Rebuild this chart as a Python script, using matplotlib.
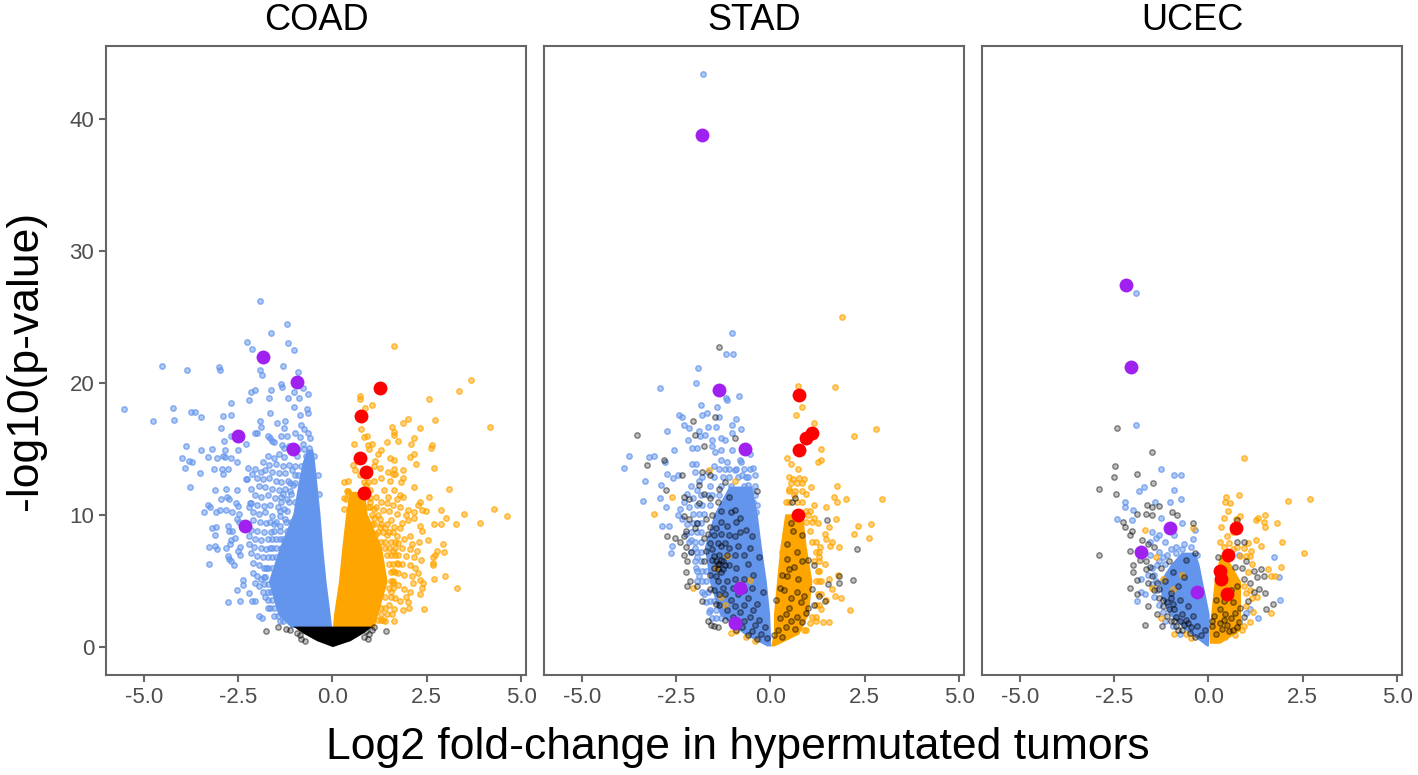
import matplotlib
matplotlib.use('Agg')
import matplotlib.pyplot as plt

plt.rcParams['font.family'] = ['Liberation Sans', 'DejaVu Sans']

panel_names = ['COAD', 'STAD', 'UCEC']
x_ticks = [-5.0, -2.5, 0.0, 2.5, 5.0]
y_ticks = [0, 10, 20, 30, 40]

# highlighted genes
coad_purple = [(-1.83, 22.0), (-0.95, 20.1), (-2.49, 16.0), (-1.05, 15.0), (-2.32, 9.2)]
coad_red = [(1.25, 19.6), (0.76, 17.5), (0.72, 14.3), (0.88, 13.3), (0.83, 11.7)]
stad_purple = [(-1.82, 38.8), (-1.36, 19.5), (-0.68, 15.0), (-0.80, 4.5), (-0.94, 1.8)]
stad_red = [(0.77, 19.1), (1.10, 16.2), (0.94, 15.8), (0.75, 14.9), (0.72, 10.0)]
ucec_purple = [(-2.19, 27.4), (-2.05, 21.2), (-1.02, 9.0), (-1.78, 7.2), (-0.31, 4.2)]
ucec_red = [(0.74, 9.0), (0.53, 7.0), (0.31, 5.8), (0.33, 5.2), (0.50, 4.0)]

coad_blue_y = [15.0, 14, 12.6, 10.1, 7.6, 5.0, 2.5, 1.5]
coad_blue_l = [-0.68, -0.8, -0.9, -1.05, -1.4, -1.7, -1.45, -1.1]
coad_blue_r = [-0.52, -0.47, -0.42, -0.33, -0.26, -0.17, -0.06, -0.02]
coad_orange_y = [11.8, 10.1, 7.6, 5.0, 2.5, 1.5]
coad_orange_l = [0.45, 0.35, 0.25, 0.16, 0.03, 0.0]
coad_orange_r = [0.85, 0.92, 1.3, 1.45, 1.2, 1.1]
coad_black_y = [1.6, 1.1, 0.5, 0.05]
coad_black_l = [-1.05, -0.8, -0.42, 0.0]
coad_black_r = [1.05, 0.82, 0.47, 0.0]
stad_blue_y = [12.2, 10.1, 7.6, 5.0, 2.5, 1.0, 0.1]
stad_blue_l = [-1.1, -1.5, -1.75, -1.62, -1.35, -0.7, -0.1]
stad_blue_r = [-0.5, -0.35, -0.24, -0.11, -0.02, 0.0, 0.0]
stad_orange_y = [10.1, 7.6, 5.0, 2.5, 1.0, 0.1]
stad_orange_l = [0.38, 0.25, 0.16, 0.08, 0.08, 0.0]
stad_orange_r = [0.85, 0.95, 1.1, 1.0, 0.75, 0.1]
ucec_blue_y = [7.2, 6.3, 5.0, 3.8, 2.5, 1.3, 0.1]
ucec_blue_l = [-0.72, -1.0, -1.3, -1.25, -1.05, -0.6, -0.05]
ucec_blue_r = [-0.36, -0.25, -0.16, -0.07, 0.02, 0.02, 0.0]
ucec_orange_y = [7.0, 5.0, 2.5, 1.3, 0.3]
ucec_orange_l = [0.3, 0.15, 0.06, 0.02, 0.02]
ucec_orange_r = [0.45, 0.85, 0.85, 0.85, 0.3]

# single points
coad_blue = [
    (-1.93, 26.2), (-1.21, 24.5), (-1.63, 23.8), (-2.27, 23.1), (-1.17, 23.0), (-2.13, 22.6), (-1.01, 22.5),
    (-4.52, 21.3), (-3.85, 21.0), (-3.0, 21.2), (-2.97, 21.0), (-1.30, 21.3), (-1.93, 21.0), (-1.86, 20.6),
    (-0.92, 20.8), (-1.37, 19.9), (-1.34, 19.7), (-1.63, 19.5), (-2.04, 19.5), (-2.15, 19.3), (-0.77, 19.6),
    (-0.66, 19.2), (-1.02, 19.3), (-1.68, 18.9), (-1.19, 18.9), (-0.88, 18.9), (-2.22, 18.7), (-2.68, 18.5),
    (-5.52, 18.0), (-4.23, 18.1), (-4.21, 17.2), (-4.76, 17.1), (-3.76, 17.8), (-3.65, 17.8), (-3.47, 17.4),
    (-2.89, 17.5), (-2.70, 17.6), (-1.01, 18.2), (-0.68, 18.0), (-0.66, 17.7), (-0.85, 17.6), (-1.66, 17.7),
    (-1.46, 17.0), (-1.92, 17.1), (-1.88, 16.7), (-1.25, 17.1), (-1.29, 16.6), (-2.95, 16.6), (-2.05, 16.2),
    (-1.99, 16.2), (-2.69, 16.0), (-2.86, 15.6), (-2.30, 15.4), (-1.70, 16.0), (-1.65, 15.8), (-1.60, 15.6),
    (-1.56, 15.5), (-0.82, 16.8), (-0.75, 16.5), (-0.65, 16.2), (-1.0, 16.2), (-1.35, 16.0), (-1.20, 16.0),
    (-0.85, 15.9), (-0.6, 15.8), (-1.33, 15.3), (-1.27, 15.1), (-1.15, 15.2), (-0.78, 15.4), (-0.62, 15.1),
    (-3.87, 15.2), (-3.47, 14.9), (-3.20, 15.0), (-2.85, 14.9), (-2.49, 14.9), (-3.99, 14.3), (-3.80, 14.1),
    (-3.72, 14.0), (-3.30, 14.4), (-3.05, 14.3), (-2.89, 14.5), (-2.85, 14.4), (-2.70, 14.3), (-2.53, 14.0),
    (-3.90, 13.6), (-3.52, 13.2), (-3.14, 13.5), (-2.93, 13.5), (-2.77, 13.5), (-2.90, 13.1), (-2.23, 13.6),
    (-2.14, 13.1), (-2.30, 12.7), (-2.26, 12.7), (-3.78, 12.1), (-3.12, 11.9), (-2.82, 12.0), (-2.53, 11.9),
    (-2.16, 12.0), (-2.94, 11.2), (-2.80, 11.4), (-2.73, 11.2), (-2.56, 10.9), (-2.49, 10.7), (-3.30, 10.8),
    (-3.25, 10.6), (-3.39, 10.2), (-3.09, 10.2), (-2.98, 10.4), (-2.82, 10.4), (-2.66, 10.2), (-2.48, 10.1),
    (-2.22, 10.6), (-2.18, 10.9), (-2.54, 9.7), (-2.47, 9.5), (-3.19, 9.0), (-3.08, 9.1), (-3.12, 8.5),
    (-2.78, 9.2), (-2.74, 8.8), (-2.65, 8.8), (-2.58, 8.3), (-2.70, 8.1), (-3.26, 7.6), (-3.10, 7.7),
    (-3.07, 7.4), (-2.82, 7.5), (-2.71, 7.8), (-2.46, 7.6), (-2.49, 7.3), (-2.44, 7.0), (-2.77, 6.9),
    (-2.73, 6.7), (-2.68, 6.5), (-2.61, 6.2), (-3.27, 6.3), (-2.38, 5.1), (-2.36, 4.7), (-2.54, 4.3),
    (-2.20, 4.1), (-2.78, 3.4), (-2.46, 3.5), (-2.12, 3.5), (-2.06, 3.5), (-1.95, 2.4), (-1.86, 2.2),
    (-1.72, 14.5), (-1.55, 14.3), (-1.42, 14.6), (-1.28, 14.4), (-1.85, 14.0), (-1.68, 13.8), (-1.50, 13.9),
    (-1.32, 13.7), (-1.15, 13.8), (-2.05, 13.5), (-1.90, 13.3), (-1.78, 13.4), (-1.60, 13.3), (-1.42, 13.2),
    (-1.25, 13.2), (-1.08, 13.4), (-2.00, 12.8), (-1.85, 12.7), (-1.68, 12.8), (-1.50, 12.6), (-1.35, 12.5),
    (-1.18, 12.6), (-1.05, 12.3), (-1.95, 12.2), (-1.78, 12.1), (-1.60, 12.0), (-1.42, 11.9), (-1.25, 12.0),
    (-1.12, 11.8), (-2.05, 11.5), (-1.88, 11.4), (-1.70, 11.5), (-1.52, 11.3), (-1.35, 11.4), (-1.2, 11.2),
    (-2.15, 10.9), (-2.00, 10.8), (-1.82, 10.7), (-1.65, 10.8), (-1.45, 10.6), (-1.28, 10.5), (-2.10, 10.2),
    (-1.95, 10.1), (-1.78, 10.2), (-1.60, 9.9), (-1.40, 9.9), (-1.25, 9.7), (-2.10, 9.6), (-1.92, 9.5),
    (-1.75, 9.4), (-1.55, 9.3), (-1.38, 9.2), (-2.15, 8.9), (-2.00, 8.8), (-1.80, 8.7), (-1.62, 8.7),
    (-2.20, 8.4), (-2.05, 8.2), (-1.88, 8.1), (-1.72, 8.2), (-2.22, 7.8), (-2.08, 7.6), (-1.90, 7.5),
    (-1.75, 7.4), (-2.15, 7.1), (-2.00, 6.9), (-1.85, 6.8), (-2.10, 6.4), (-1.95, 6.2), (-1.82, 6.0),
    (-2.10, 5.6), (-2.00, 5.4), (-1.88, 5.2), (-2.05, 4.9), (-1.95, 4.6), (-1.85, 4.2), (-1.78, 3.8),
    (-0.75, 15.0), (-0.9, 15.0), (-0.95, 14.5), (-0.7, 14.5), (-0.48, 14.5), (-0.98, 13.7), (-0.82, 13.7),
    (-1.0, 13.0), (-0.9, 13.0), (-0.38, 13.0), (-1.12, 12.4), (-1.0, 12.4), (-1.3, 11.6), (-1.1, 11.6),
    (-0.35, 11.6), (-1.35, 11.0), (-1.15, 11.0), (-1.0, 11.0), (-1.4, 10.3), (-1.2, 10.3), (-1.22, 9.5),
    (-1.1, 9.5), (-1.5, 9.5), (-1.65, 9.5), (-1.2, 8.8), (-1.4, 8.8), (-1.55, 8.8), (-1.3, 8.2), (-1.5, 8.2),
    (-1.6, 8.2), (-1.4, 8.2), (-1.5, 7.5), (-1.6, 7.5), (-1.65, 7.5), (-1.35, 7.5), (-1.7, 6.8), (-1.6, 6.8),
    (-1.5, 6.8), (-1.7, 6.0), (-1.6, 6.0), (-1.75, 6.0), (-1.82, 5.3), (-1.78, 5.3), (-1.8, 4.8), (-1.72, 4.8),
    (-1.72, 4.2), (-1.62, 4.2), (-1.7, 3.6), (-1.6, 3.6), (-1.65, 3.0), (-1.55, 3.0), (-1.7, 3.0), (-1.55, 2.4),
    (-1.45, 2.4), (-1.4, 2.0), (-1.3, 2.0),
]
coad_orange = [
    (1.62, 22.8), (3.67, 20.2), (3.36, 19.4), (2.56, 18.8), (0.72, 19.0), (0.72, 18.8), (0.87, 18.1), (1.06, 18.3),
    (0.69, 17.6), (4.18, 16.7), (1.99, 17.3), (1.87, 17.0), (2.72, 17.2), (1.57, 16.7), (2.32, 16.6), (0.76, 16.5),
    (1.62, 16.3), (1.64, 16.1), (0.84, 15.9), (0.91, 16.0), (2.16, 15.8), (1.73, 15.6), (1.44, 15.5), (2.09, 15.4),
    (1.06, 15.4), (0.93, 15.3), (2.65, 15.3), (2.60, 15.1), (0.56, 15.4), (0.98, 15.0), (1.28, 14.9), (1.22, 14.6),
    (2.15, 14.6), (2.05, 14.4), (1.53, 14.3), (1.64, 14.2), (2.22, 13.9), (1.13, 14.1), (1.26, 13.6), (1.10, 13.7),
    (2.69, 13.6), (1.86, 13.4), (1.64, 13.5), (1.48, 13.3), (1.60, 13.1), (1.67, 13.1), (1.28, 12.8), (1.10, 12.6),
    (1.53, 12.6), (1.83, 12.5), (1.88, 12.8), (2.15, 12.1), (3.08, 12.0), (1.63, 11.9), (1.38, 11.9), (2.56, 11.4),
    (1.79, 11.5), (1.88, 11.4), (1.47, 11.4), (1.72, 11.2), (2.31, 11.0), (2.28, 10.8), (2.87, 10.4), (2.37, 10.4),
    (2.48, 10.3), (4.27, 10.5), (3.48, 10.1), (4.63, 9.9), (3.01, 9.8), (2.15, 9.8), (3.92, 9.4), (2.69, 9.3),
    (2.89, 9.3), (3.27, 9.3), (2.32, 9.2), (2.37, 8.8), (2.53, 8.1), (2.94, 7.8), (2.29, 8.0), (2.97, 7.2),
    (2.78, 7.3), (2.72, 7.0), (2.66, 6.8), (2.66, 6.4), (2.66, 6.2), (2.98, 5.4), (2.69, 5.2), (3.30, 4.5),
    (2.13, 4.9), (2.31, 5.1), (2.41, 4.9), (2.37, 4.5), (2.31, 4.0), (2.44, 2.9), (2.0, 3.4), (2.02, 3.0),
    (1.88, 2.8), (1.62, 2.9), (1.59, 2.5), (1.64, 2.0), (1.40, 2.0), (1.3, 11.0), (1.45, 10.9), (1.6, 10.8),
    (1.8, 10.6), (2.0, 10.4), (2.15, 10.2), (1.1, 10.5), (1.35, 10.4), (1.5, 10.3), (1.7, 10.1), (1.95, 10.0),
    (1.1, 9.8), (1.25, 9.7), (1.55, 9.6), (1.85, 9.4), (2.0, 9.6), (1.25, 9.1), (1.4, 9.0), (1.62, 9.1),
    (1.8, 9.0), (1.05, 9.3), (1.15, 8.6), (1.45, 8.5), (1.7, 8.4), (1.9, 8.2), (2.05, 8.4), (1.55, 8.0),
    (1.75, 7.9), (2.1, 7.8), (1.85, 7.5), (2.05, 7.4), (2.25, 7.3), (1.6, 7.3), (1.75, 7.0), (1.95, 6.9),
    (2.15, 6.8), (2.35, 6.6), (1.7, 6.4), (1.85, 6.3), (2.05, 6.2), (2.2, 6.0), (1.6, 5.8), (1.75, 5.6),
    (1.9, 5.5), (2.1, 5.4), (2.28, 5.6), (1.6, 4.9), (1.75, 4.7), (1.9, 4.4), (2.05, 4.2), (1.55, 4.2),
    (1.65, 3.7), (1.8, 3.5), (1.95, 3.8), (1.5, 3.2), (0.3, 12.5), (0.42, 12.6), (0.6, 13.4), (0.72, 13.0),
    (0.55, 13.8), (0.9, 12.3), (0.4, 11.7), (0.35, 11.2), (1.0, 11.9), (1.15, 11.4), (1.0, 11.0),
    (0.95, 12.5), (0.85, 12.5), (0.9, 12.0), (1.0, 11.3), (0.3, 11.3), (1.0, 10.6), (1.15, 10.6), (0.95, 10.6),
    (1.05, 10.0), (1.2, 10.0), (1.1, 9.3), (1.3, 9.3), (1.45, 9.3), (1.2, 8.7), (1.35, 8.7), (1.5, 8.7), (1.6, 8.7),
    (1.3, 8.0), (1.4, 8.0), (1.65, 8.0), (1.4, 7.5), (1.5, 7.5), (1.65, 7.5), (1.45, 7.0), (1.55, 7.0), (1.65, 7.0),
    (1.5, 6.3), (1.6, 6.3), (1.75, 6.3), (1.55, 5.7), (1.65, 5.7), (1.55, 5.0), (1.6, 5.0), (1.5, 4.5), (1.6, 4.5),
    (1.4, 3.8), (1.55, 3.8), (1.3, 3.0), (1.4, 3.0), (1.3, 2.5), (1.45, 2.5), (1.2, 2.1), (1.35, 2.1), (1.3, 2.1),
    (0.38, 11.8), (0.42, 11.8), (0.32, 10.5),
]
coad_black = [
    (-1.77, 1.2), (-1.45, 1.5), (-1.23, 1.4), (-1.12, 1.3), (-0.85, 0.9), (-0.82, 0.6), (-0.72, 0.5), (0.85, 0.8),
    (0.93, 0.6), (0.98, 1.0), (1.05, 1.3), (1.11, 1.5), (1.42, 1.2), (0.88, 1.2), (-0.95, 1.1),
]
stad_blue = [
    (-1.79, 43.4), (-1.02, 23.8), (-1.19, 22.2), (-1.0, 22.2), (-1.93, 21.1), (-1.98, 20.0), (-2.93, 19.6),
    (-1.17, 18.9), (-1.15, 18.7), (-0.83, 19.0), (-1.83, 18.3), (-1.42, 18.2), (-2.43, 17.6), (-2.33, 17.4),
    (-1.81, 17.6), (-1.69, 17.7), (-1.35, 17.4), (-0.92, 17.3), (-2.28, 16.8), (-2.17, 16.6), (-2.75, 16.4),
    (-1.88, 16.4), (-1.65, 16.7), (-1.45, 16.7), (-1.02, 16.8), (-0.78, 16.5), (-1.87, 16.0), (-1.74, 16.1),
    (-1.01, 16.2), (-2.19, 15.7), (-1.55, 15.7), (-1.32, 15.8), (-1.20, 15.7), (-3.75, 14.5), (-3.22, 14.4),
    (-3.08, 14.5), (-2.55, 14.9), (-2.09, 15.1), (-1.94, 15.1), (-1.55, 15.2), (-1.48, 14.8), (-1.30, 14.9),
    (-1.03, 14.9), (-0.55, 14.6), (-3.88, 13.6), (-3.33, 12.6), (-2.73, 13.1), (-2.58, 12.8), (-2.45, 13.0),
    (-2.07, 13.9), (-1.98, 13.9), (-2.01, 13.3), (-2.80, 14.0), (-2.91, 12.3), (-2.93, 11.3), (-3.38, 11.1),
    (-2.76, 10.6), (-2.87, 9.2), (-2.68, 9.2), (-2.64, 7.1), (-2.62, 7.7), (-0.46, 13.6), (-0.42, 13.0),
    (-0.64, 12.9), (-0.81, 14.2), (-0.77, 14.0), (-1.90, 12.6), (-2.10, 12.2), (-2.20, 11.6), (-2.30, 11.0),
    (-2.40, 10.5), (-2.45, 10.0), (-2.35, 9.7), (-2.20, 9.3), (-2.15, 10.6), (-2.05, 11.3), (-1.95, 11.9),
    (-1.80, 12.9), (-1.65, 13.3), (-1.50, 13.7), (-1.30, 14.2), (-1.15, 14.0), (-0.95, 13.4), (-0.75, 13.0),
    (-0.6, 12.3), (-0.52, 11.8), (-0.45, 11.0), (-0.38, 10.2), (-2.25, 8.6), (-2.10, 8.1), (-2.0, 7.5),
    (-1.95, 6.8), (-1.98, 6.0), (-1.9, 5.4), (-1.75, 4.0), (-1.7, 3.4), (-1.62, 2.7), (-1.55, 2.2),
    (-1.2, 13.5), (-1.1, 13.5), (-0.9, 13.5), (-0.7, 13.5), (-1.35, 13.5), (-0.55, 13.5), (-1.5, 12.9),
    (-1.25, 12.9), (-1.1, 12.9), (-0.85, 12.9), (-0.6, 12.9), (-1.6, 12.2), (-1.3, 12.2), (-1.05, 12.2),
    (-0.7, 12.2), (-0.42, 12.2), (-1.85, 11.5), (-1.65, 11.5), (-1.55, 11.5), (-1.35, 11.5), (-0.4, 11.5),
    (-1.95, 10.8), (-1.8, 10.8), (-1.6, 10.8), (-0.35, 10.8), (-2.05, 10.1), (-1.9, 10.1), (-1.75, 10.1),
    (-2.05, 9.4), (-1.85, 9.4), (-1.95, 9.4), (-2.1, 8.7), (-1.95, 8.7), (-1.85, 8.7), (-2.15, 8.0), (-2.0, 8.0),
    (-1.85, 8.0), (-2.1, 7.2), (-1.95, 7.2), (-1.85, 7.2), (-2.0, 6.5), (-1.85, 6.5), (-1.95, 5.8), (-1.8, 5.8),
    (-1.7, 5.8), (-1.95, 5.0), (-1.8, 5.0), (-1.7, 5.0), (-1.8, 4.2), (-1.65, 4.2), (-1.6, 3.5), (-1.5, 3.5),
    (-1.6, 2.8), (-1.45, 2.8), (-1.45, 2.2), (-1.3, 2.2),
]
stad_black = [
    (-1.35, 22.7), (-3.53, 16.1), (-2.04, 17.1), (-1.48, 17.4), (-2.01, 16.1), (-0.94, 15.8), (-2.82, 14.2),
    (-3.28, 13.8), (-1.76, 15.2), (-2.76, 11.9), (-2.34, 13.0), (-2.28, 11.4), (-2.73, 8.4), (-2.52, 8.3),
    (-2.30, 8.4), (-0.35, 11.8), (-1.8, 13.3), (-1.9, 12.3), (-1.6, 13.0), (-1.75, 11.6), (-2.15, 11.2),
    (-1.9, 10.9), (-2.3, 9.9), (-2.15, 9.7), (-1.95, 9.4), (-2.0, 9.0), (-2.25, 8.8), (-2.4, 8.0), (-2.25, 7.6),
    (-2.1, 7.2), (-2.3, 7.0), (-2.2, 6.5), (-2.25, 5.7), (-2.12, 5.0), (-2.2, 4.6), (-1.8, 3.5), (-1.95, 4.6),
    (-1.65, 2.0), (-1.57, 1.7), (-1.4, 1.5), (-1.5, 1.6), (-1.2, 12.5), (-1.1, 11.4), (-0.95, 10.4), (-1.3, 10.3),
    (-1.55, 10.0), (-1.7, 9.7), (-1.45, 9.0), (-1.15, 9.2), (-0.9, 9.5), (-0.65, 8.9), (-0.55, 7.5), (-0.85, 7.7),
    (-1.1, 7.5), (-1.3, 7.7), (-1.6, 7.9), (-1.35, 7.0), (-1.55, 6.6), (-1.4, 6.3), (-1.25, 6.5), (-1.1, 6.2),
    (-1.5, 6.0), (-1.3, 5.7), (-1.6, 5.5), (-1.75, 6.5), (-1.7, 7.3), (-1.4, 5.0), (-1.15, 5.0), (-0.9, 6.0),
    (-0.6, 6.3), (-0.3, 6.8), (-0.45, 5.5), (-0.7, 5.2), (-0.95, 5.2), (-1.5, 4.3), (-1.2, 4.0), (-1.05, 3.6),
    (-0.6, 3.7), (-0.35, 3.3), (-0.2, 4.2), (-1.35, 3.2), (-1.15, 2.8), (-0.8, 2.7), (-0.55, 2.3), (-0.3, 2.1),
    (-0.75, 1.5), (-0.5, 1.2), (-0.25, 1.0), (-0.1, 0.7), (0.1, 0.9), (0.2, 1.3), (0.3, 0.8), (0.25, 2.2),
    (0.4, 2.5), (0.55, 2.0), (0.65, 1.4), (0.85, 1.9), (0.95, 2.6), (0.15, 3.6), (0.35, 4.3), (0.55, 3.7),
    (0.8, 3.4), (1.15, 3.2), (1.3, 3.9), (1.45, 3.5), (1.1, 4.4), (0.72, 5.2), (0.62, 6.1), (0.85, 6.5),
    (1.0, 6.6), (1.15, 6.2), (0.85, 8.5), (0.45, 7.8), (0.6, 8.8), (0.58, 11.0), (1.53, 4.8), (1.83, 5.4),
    (1.82, 4.9), (2.2, 5.1), (2.29, 7.4), (1.5, 9.6), (0.65, 11.3),
    (-1.45, 6.5), (-1.35, 6.3), (-1.3, 6.6), (-1.4, 5.9), (-1.25, 5.9), (-1.2, 6.2), (-1.5, 6.9), (-1.45, 5.4),
    (-1.55, 7.4), (-1.4, 7.9), (-1.2, 7.9), (-1.1, 8.5), (-1.3, 8.6), (-1.5, 8.5), (-1.65, 8.6), (-1.75, 8.3),
    (-0.95, 8.4), (-0.8, 8.7), (-0.7, 7.0), (-0.95, 7.0), (-1.15, 7.0), (-1.0, 4.5), (-1.25, 4.5), (-1.35, 4.0),
    (-0.85, 4.0), (-0.7, 4.3), (-0.5, 4.5), (-0.95, 3.1), (-0.7, 3.2), (-0.45, 2.8), (-1.0, 2.3), (-0.7, 2.0),
    (-0.4, 1.7), (-0.15, 1.5), (-0.9, 1.3), (-0.6, 0.9), (-0.35, 0.6), (-1.2, 2.1), (-1.45, 3.3), (-1.6, 4.4),
    (-0.5, 8.4), (-0.8, 9.8), (-1.05, 10.2), (-1.3, 9.5), (-1.6, 9.1), (-1.4, 11.0), (-1.6, 11.3), (-1.35, 12.0),
    (0.3, 5.5), (0.45, 5.4), (0.25, 4.5), (0.5, 3.0), (0.7, 2.3), (0.4, 1.5), (0.7, 4.2), (0.9, 3.9), (1.0, 3.0),
    (0.5, 5.9), (0.45, 6.7), (0.7, 7.2), (0.55, 9.4),
]
stad_orange = [
    (1.90, 25.0), (1.70, 19.7), (0.72, 19.8), (0.84, 18.2), (0.67, 17.6), (1.16, 17.0), (2.79, 16.5), (2.21, 16.0),
    (1.33, 15.0), (0.44, 14.3), (0.54, 13.9), (1.33, 14.2), (1.27, 14.0), (0.72, 13.5), (-3.09, 10.1), (-2.61, 11.4),
    (-1.63, 13.4), (-0.95, 12.6), (1.77, 12.2), (1.69, 11.4), (2.01, 11.2), (1.77, 11.0), (2.97, 11.2), (1.48, 10.6),
    (1.15, 10.8), (1.74, 9.7), (2.66, 9.3), (2.33, 9.2), (2.21, 8.6), (2.61, 8.3), (1.56, 9.1), (1.44, 8.6),
    (1.62, 8.0), (1.57, 7.7), (1.81, 7.6), (1.31, 7.6), (1.47, 8.2), (1.79, 5.5), (2.10, 2.8), (1.40, 1.9),
    (1.55, 1.9), (1.86, 3.7), (0.5, 12.9), (0.6, 12.7), (0.75, 12.8), (0.9, 12.7), (1.08, 12.1), (0.5, 12.0),
    (0.62, 11.5), (0.95, 11.6), (1.15, 9.8), (1.0, 10.0), (1.25, 9.4), (1.3, 6.8), (1.45, 6.3), (1.55, 5.2),
    (1.35, 5.0), (1.62, 4.4), (1.7, 3.9), (1.48, 3.6), (1.35, 2.9), (1.2, 2.0), (1.05, 1.8), (-1.2, 3.2),
    (-2.05, 4.5), (-0.9, 1.2), (-1.05, 1.1), (-0.65, 0.8), (-0.4, 0.5), (-0.55, 5.1), (-0.8, 4.8), (-1.15, 6.9),
    (-1.45, 6.0), (-1.3, 3.8), (0.55, 12.4), (0.7, 12.4), (0.85, 12.4), (0.5, 11.8), (0.65, 11.8), (0.85, 11.8),
    (0.4, 11.0), (0.5, 11.0), (0.7, 11.0), (0.85, 11.0), (0.95, 10.3), (1.05, 10.3), (0.95, 9.5), (1.1, 9.5),
    (1.05, 8.8), (0.4, 8.8), (1.1, 8.0), (1.2, 8.0), (1.2, 7.2), (1.3, 7.2), (0.3, 7.2), (1.15, 6.5), (1.3, 6.5),
    (1.25, 5.8), (1.3, 5.8), (1.3, 5.0), (1.2, 5.0), (1.25, 4.0), (1.35, 4.0), (1.2, 3.2), (1.3, 3.2), (1.1, 2.3),
    (1.2, 2.3), (0.9, 1.3), (0.95, 1.3),
]
ucec_blue = [
    (-1.93, 26.8), (-1.91, 16.8), (-1.26, 13.5), (-0.92, 13.0), (-0.72, 13.0), (-1.71, 12.1), (-1.83, 11.8),
    (-0.90, 11.9), (-0.72, 11.2), (-2.21, 11.0), (-1.42, 11.0), (-1.02, 11.0), (-2.21, 10.6), (-2.01, 10.4),
    (-2.42, 9.7), (-2.02, 9.6), (-1.25, 9.8), (-0.69, 9.4), (-0.35, 8.9), (1.74, 6.8), (1.87, 5.3), (1.91, 3.6),
    (-1.78, 4.2), (-1.68, 4.0), (-1.89, 3.5), (-1.78, 5.2), (1.31, 2.2), (-1.5, 8.7), (-1.4, 8.3), (-1.55, 8.0),
    (-1.3, 8.5), (-1.15, 8.0), (-0.9, 8.5), (-0.65, 7.8), (-0.7, 7.4), (-0.45, 7.6), (-1.3, 7.2), (-1.1, 7.0),
    (-0.85, 7.1), (-1.55, 7.0), (-1.35, 6.2), (-1.5, 6.0), (-1.6, 5.5), (0.8, 7.0), (1.1, 2.9), (1.0, 2.6),
    (-0.85, 7.6), (-1.0, 7.4), (-1.2, 6.8), (-1.3, 6.5), (-1.15, 6.3), (-1.45, 5.5), (-1.4, 5.0), (-1.5, 4.8),
    (-1.35, 4.3), (-1.45, 3.8), (-1.3, 3.2), (-1.2, 2.7), (-1.15, 2.0), (-0.95, 1.6), (-0.75, 1.0), (-0.4, 8.2),
    (-0.3, 7.0), (-0.4, 6.8),
]
ucec_black = [
    (-2.42, 16.6), (-1.50, 14.8), (-2.47, 13.7), (-2.49, 12.9), (-1.90, 13.1), (-1.48, 12.4), (-2.89, 12.0),
    (-2.44, 11.6), (-1.62, 10.8), (-1.49, 10.6), (-1.30, 10.7), (-0.96, 10.2), (-1.90, 10.1), (-1.66, 10.1),
    (-1.50, 10.0), (-0.82, 10.0), (-2.27, 9.5), (-2.21, 9.1), (-2.02, 8.8), (-2.09, 8.5), (-0.41, 9.4),
    (-2.89, 7.0), (-2.09, 7.3), (-1.99, 6.2), (-1.99, 5.7), (-1.88, 5.1), (-2.07, 4.5), (-1.89, 4.0), (-1.61, 3.1),
    (-1.68, 1.7), (-1.22, 1.6), (1.72, 3.3), (1.52, 2.9), (1.51, 4.1), (1.47, 5.4), (-1.8, 6.6), (-1.65, 6.5),
    (-1.5, 5.4), (-1.35, 4.9), (-1.45, 4.3), (-1.3, 3.7), (-1.2, 3.1), (-1.35, 2.5), (-1.1, 2.4), (-1.0, 2.0),
    (-0.85, 1.6), (-0.7, 1.3), (-0.9, 2.9), (-0.7, 2.5), (-0.55, 1.8), (-0.75, 3.6), (-0.55, 3.1), (-1.0, 4.1),
    (-0.8, 4.6), (-1.15, 5.0), (-0.95, 5.7), (-0.65, 5.3), (-0.4, 2.4), (-0.3, 1.6), (-0.2, 0.9), (-0.35, 0.8),
    (-0.5, 1.1), (-0.1, 1.3), (-1.05, 6.5), (-1.25, 6.0), (-0.6, 6.6), (-0.35, 7.1), (0.1, 1.6), (0.2, 1.0),
    (0.35, 1.4), (0.5, 1.7), (0.65, 1.3), (0.8, 1.9), (0.95, 2.3), (0.15, 2.4), (0.3, 2.9), (0.45, 2.5),
    (0.7, 2.6), (0.85, 3.0), (0.2, 3.6), (0.4, 3.5), (0.65, 3.4), (1.05, 3.5), (1.2, 4.2), (1.35, 4.4), (1.1, 4.9),
    (0.95, 5.2), (0.75, 4.6), (0.6, 4.3), (0.9, 6.0), (0.7, 6.1), (1.0, 6.5), (1.2, 5.8), (1.4, 5.9), (1.3, 5.3),
    (0.25, 6.8), (0.75, 8.0), (0.95, 8.0), (0.75, 9.6),
    (-1.1, 3.4), (-0.95, 3.3), (-1.05, 2.9), (-0.85, 2.3), (-0.75, 2.0), (-0.9, 2.0), (-0.65, 1.7), (-0.8, 1.3),
    (-1.2, 3.6), (-1.3, 4.4), (-1.0, 3.7), (-0.6, 2.1), (-0.45, 1.5), (0.1, 2.0), (0.3, 1.8), (0.55, 1.2), (0.4, 2.1),
    (0.6, 2.2), (0.75, 1.5), (-1.6, 7.8), (-1.75, 8.1), (-1.45, 7.6), (-1.55, 6.1), (-1.65, 5.9), (-1.6, 4.9),
]
ucec_orange = [
    (0.93, 14.3), (0.80, 11.5), (0.46, 11.4), (0.43, 11.0), (0.56, 10.9), (0.52, 10.3), (0.41, 9.8), (1.51, 10.0),
    (1.32, 9.8), (1.27, 9.6), (1.46, 9.5), (1.83, 9.4), (1.49, 9.1), (0.34, 9.1), (0.72, 9.7), (0.85, 9.9), (1.94, 8.0),
    (1.27, 8.1), (1.39, 7.7), (1.06, 7.9), (2.54, 7.1), (1.92, 6.1), (1.58, 5.9), (1.65, 5.4), (1.76, 5.4), (1.17, 2.7),
    (1.66, 2.6), (2.11, 11.1), (2.70, 11.2), (0.5, 8.4), (0.65, 8.7), (0.95, 7.5), (1.12, 7.3), (1.1, 6.9), (0.85, 6.9),
    (-1.67, 8.9), (-0.42, 9.0), (-1.4, 6.8), (-1.2, 5.2), (-0.7, 5.5), (-0.95, 4.4), (-1.5, 4.5), (-1.25, 2.2), (-0.6, 1.0),
    (-0.45, 0.7), (0.7, 0.9), (0.45, 0.8), (1.3, 3.8), (1.1, 4.3), (-0.9, 1.0), (0.3, 8.0), (0.4, 7.6), (0.55, 7.9),
    (0.65, 7.4), (0.75, 7.6), (1.0, 6.9), (1.15, 6.3), (1.05, 5.7), (0.95, 4.6), (1.0, 4.1), (1.15, 3.7), (1.0, 3.1),
    (1.1, 1.9), (0.95, 1.6), (0.9, 1.3),
]

highlights = [(coad_purple, coad_red), (stad_purple, stad_red), (ucec_purple, ucec_red)]
singles = [(coad_blue, coad_orange, coad_black), (stad_blue, stad_orange, stad_black), (ucec_blue, ucec_orange, ucec_black)]
edges_blue = [(coad_blue_y, coad_blue_l, coad_blue_r), (stad_blue_y, stad_blue_l, stad_blue_r), (ucec_blue_y, ucec_blue_l, ucec_blue_r)]
edges_orange = [(coad_orange_y, coad_orange_l, coad_orange_r), (stad_orange_y, stad_orange_l, stad_orange_r), (ucec_orange_y, ucec_orange_l, ucec_orange_r)]

W, H = 1418, 775
lefts = [106, 544, 982]


def draw_points(ax, pts, color, face, edge):
    xs = [p[0] for p in pts]
    ys = [p[1] for p in pts]
    ax.scatter(xs, ys, s=15, facecolor=matplotlib.colors.to_rgba(color, face),
               edgecolor=matplotlib.colors.to_rgba(color, edge), linewidth=1.0, zorder=3)


fig = plt.figure(figsize=(W / 100, H / 100), dpi=100)
for i, name in enumerate(panel_names):
    ax = fig.add_axes([lefts[i] / W, 1 - 675 / H, 420 / W, 629 / H])
    blue, orange, black = singles[i]

    y, l, r = edges_blue[i]
    ax.fill_betweenx(y, l, r, color='#6495ED', linewidth=0, zorder=2)
    y, l, r = edges_orange[i]
    ax.fill_betweenx(y, l, r, color='#FFA500', linewidth=0, zorder=2)
    if i == 0:
        ax.fill_betweenx(coad_black_y, coad_black_l, coad_black_r, color='black', linewidth=0, zorder=2.5)

    draw_points(ax, blue, '#6495ED', 0.5, 0.75)
    draw_points(ax, orange, '#FFA500', 0.5, 0.75)
    draw_points(ax, black, 'black', 0.25, 0.45)

    purple, red = highlights[i]
    ax.scatter([p[0] for p in purple], [p[1] for p in purple], s=100, color='#A020F0', linewidth=0, zorder=5)
    ax.scatter([p[0] for p in red], [p[1] for p in red], s=100, color='#FF0000', linewidth=0, zorder=5)

    ax.set_xlim(-6.0, 5.13)
    ax.set_ylim(-2.1, 45.5)
    ax.set_xticks(x_ticks)
    ax.set_xticklabels([f'{t:.1f}' for t in x_ticks])
    ax.set_title(name, fontsize=26, pad=11.5)
    ax.tick_params(length=5, width=1.5, color='#666666', labelcolor='#4D4D4D', labelsize=16)
    if i == 0:
        ax.set_yticks(y_ticks)
        ax.set_ylabel('-log10(p-value)', fontsize=32, labelpad=17)
    else:
        ax.set_yticks([])
    for s in ax.spines.values():
        s.set_color('#666666')
        s.set_linewidth(1.5)

fig.text(738 / W, 1 - 748 / H, 'Log2 fold-change in hypermutated tumors', fontsize=32, ha='center', va='center')

fig.savefig('out.png', dpi=100)
